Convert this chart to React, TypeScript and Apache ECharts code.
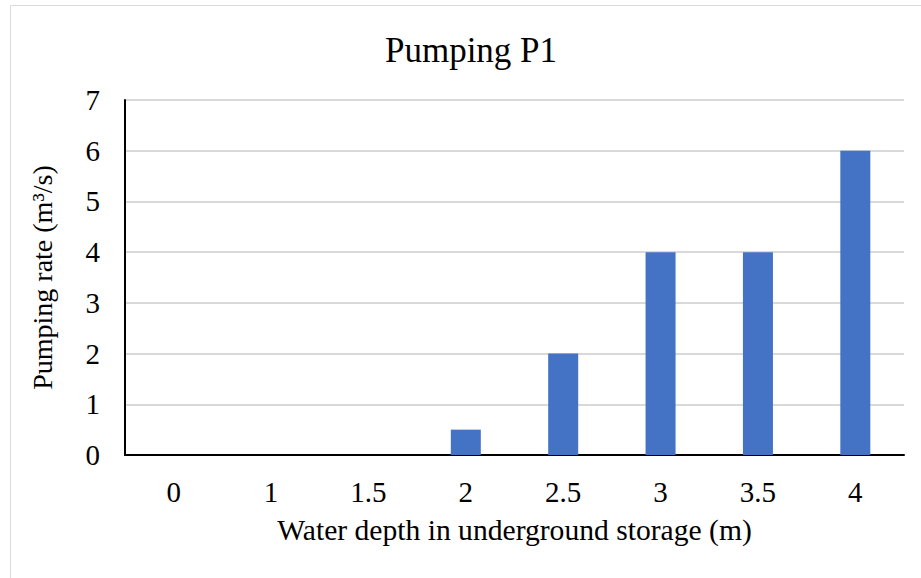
import React, { useEffect, useRef } from "react";
import * as echarts from "echarts";

const titleText = "Pumping P1";
const categories = ["0", "1", "1.5", "2", "2.5", "3", "3.5", "4"];
const pumpingRates = [0, 0, 0, 0.5, 2, 4, 4, 6];
const xAxisName = "Water depth in underground storage (m)";
const yAxisName = "Pumping rate (m³/s)";

const FONT = "'Liberation Serif', 'Times New Roman', serif";

export default function App() {
  const ref = useRef<HTMLDivElement>(null);
  useEffect(() => {
    document.body.style.margin = "0";
    const chart = echarts.init(ref.current!, null, { renderer: "svg" });
    chart.setOption({
      animation: false,
      backgroundColor: "#ffffff",
      graphic: [
        {
          type: "rect",
          shape: { x: 10.5, y: 5.5, width: 912, height: 580 },
          style: { fill: "none", stroke: "#d9d9d9", lineWidth: 1 },
          silent: true,
        },
      ],
      title: {
        text: titleText,
        left: 466,
        textAlign: "center",
        top: 28,
        textStyle: { fontFamily: FONT, fontSize: 35, fontWeight: "normal", color: "#000" },
      },
      grid: { left: 125, right: 17, top: 100, bottom: 123 },
      xAxis: {
        type: "category",
        data: categories,
        name: xAxisName,
        nameLocation: "middle",
        nameGap: 60,
        nameTextStyle: { fontFamily: FONT, fontSize: 29.6, color: "#000" },
        axisLine: { lineStyle: { color: "#000", width: 2 } },
        axisTick: { show: false },
        axisLabel: { fontFamily: FONT, fontSize: 29, color: "#000", margin: 22 },
      },
      yAxis: {
        type: "value",
        min: 0,
        max: 7,
        interval: 1,
        name: yAxisName,
        nameLocation: "middle",
        nameGap: 69,
        nameTextStyle: { fontFamily: FONT, fontSize: 28, color: "#000" },
        axisLine: { show: true, lineStyle: { color: "#000", width: 2 } },
        axisTick: { show: false },
        axisLabel: { fontFamily: FONT, fontSize: 29, color: "#000", margin: 25 },
        splitLine: { lineStyle: { color: "#d9d9d9", width: 2 } },
      },
      series: [
        {
          type: "bar",
          data: pumpingRates,
          barWidth: 30,
          itemStyle: { color: "#4472C4" },
        },
      ],
    });
    return () => chart.dispose();
  }, []);
  return <div ref={ref} style={{ width: 921, height: 578 }} />;
}
